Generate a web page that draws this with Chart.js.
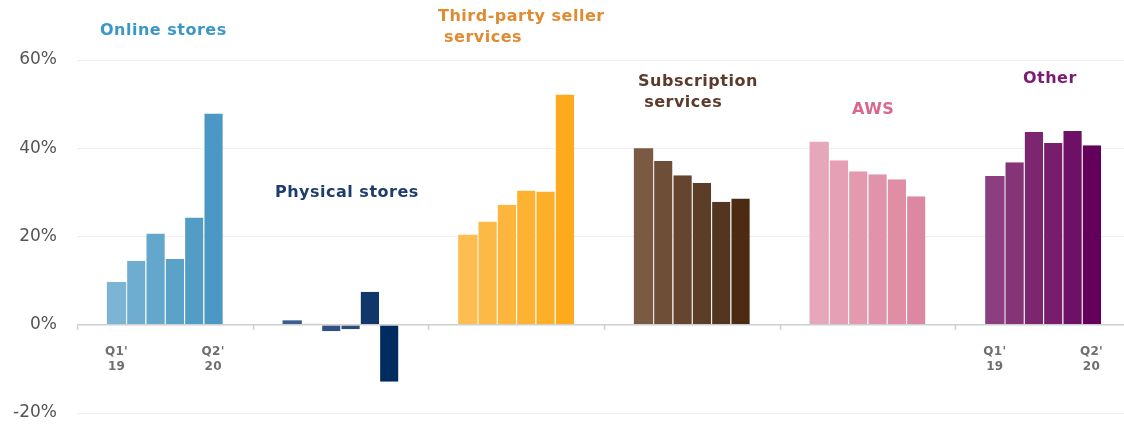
<!DOCTYPE html>
<html>
<head>
<meta charset="utf-8">
<script src="https://cdn.jsdelivr.net/npm/chart.js@4/dist/chart.umd.min.js"></script>
<style>
    html, body { margin: 0; padding: 0; background: #fff; overflow: hidden; }
    #wrap { position: relative; width: 1131px; height: 424px; }
</style>
</head>
<body>
<div id="wrap"><canvas id="chart"></canvas></div>
<script>
// ── Data: year-over-year growth by segment, Q1'19 → Q2'20 ──────────────────

const SEGMENTS = ['Online stores', 'Physical stores', 'Third-party seller services',
                  'Subscription services', 'AWS', 'Other'];
const QUARTERS = ["Q1'19", "Q2'19", "Q3'19", "Q4'19", "Q1'20", "Q2'20"];

const onlineStores   = [9.7, 14.5, 20.7, 14.9, 24.3, 47.9];
const physicalStores = [1.0, 0.3, -1.5, -1.0, 7.5, -12.9];
const thirdParty     = [20.4, 23.4, 27.2, 30.4, 30.2, 52.2];
const subscription   = [40.0, 37.1, 33.9, 32.1, 27.9, 28.6];
const aws            = [41.5, 37.3, 34.8, 34.1, 33.0, 29.1];
const other          = [33.7, 36.8, 43.7, 41.2, 43.9, 40.7];

const SERIES = [onlineStores, physicalStores, thirdParty, subscription, aws, other];

const Y_TICKS = [-20, 0, 20, 40, 60];

// ── Styling ────────────────────────────────────────────────────────────────

// one shade per quarter, light → dark
const PALETTE = [
    ['#7cb4d4', '#6eadd0', '#64a7cc', '#5ba2c9', '#529dc6', '#4a98c3'],
    ['#3a5f8f', '#9cc3d9', '#2f5283', '#2b4d7d', '#11366a', '#002b5e'],
    ['#fdbd50', '#fdb946', '#fdb53c', '#fdb232', '#fdaf2a', '#fdaa1c'],
    ['#7b5a44', '#6f4e38', '#654430', '#5c3d27', '#54351f', '#4b2b12'],
    ['#e6a7bb', '#e5a0b5', '#e39aaf', '#e094ab', '#df8ea6', '#dc88a2'],
    ['#8b3f80', '#853478', '#7c2670', '#771d6c', '#6e1065', '#63005c'],
];

// segment headings: x as fraction of the category slot, y in % units
const TITLES = [
    { lines: ['Online stores'],                            fx: 0.131, y: 66.6, color: '#3a97c6' },
    { lines: ['Physical stores'],                          fx: 0.127, y: 29.9, color: '#1e3d6e' },
    { lines: ['Third-party seller', ' services'],          fx: 0.055, y: 69.7, color: '#e08b30' },
    { lines: ['Subscription', ' services'],                fx: 0.194, y: 55.0, color: '#5b3b2b' },
    { lines: ['AWS'],                                      fx: 0.412, y: 48.7, color: '#d9688f' },
    { lines: ['Other'],                                    fx: 0.385, y: 55.7, color: '#7b1c72' },
];

// quarter captions under the first and last bar of these segments
const CAPTION_SEGMENTS = [0, 5];

const FONT = '"DejaVu Sans", sans-serif';

// ── Overlay: zero axis, slot ticks, headings, captions ─────────────────────

const overlay = {
    id: 'overlay',
    afterDraw(chart) {
        const ctx = chart.ctx;
        const y = chart.scales.y;
        const area = chart.chartArea;
        const y0 = y.getPixelForValue(0);
        const slot = (area.right - area.left) / SEGMENTS.length;

        ctx.save();
        ctx.strokeStyle = '#cfcfcf';
        ctx.lineWidth = 1.5;
        ctx.beginPath();
        ctx.moveTo(area.left, y0);
        ctx.lineTo(area.right, y0);
        for (let i = 0; i <= SEGMENTS.length; i++) {
            const bx = Math.round(area.left + i * slot) + 0.5;
            ctx.moveTo(bx, y0);
            ctx.lineTo(bx, y0 + 5);
        }
        ctx.stroke();

        // headings
        ctx.font = `bold 16px ${FONT}`;
        ctx.letterSpacing = '0.5px';
        ctx.textAlign = 'left';
        ctx.textBaseline = 'middle';
        TITLES.forEach((t, i) => {
            const tx = area.left + (i + t.fx) * slot;
            const ty = y.getPixelForValue(t.y);
            ctx.fillStyle = t.color;
            t.lines.forEach((line, k) => ctx.fillText(line, tx, ty + k * 21));
        });

        // quarter captions
        ctx.font = `bold 12px ${FONT}`;
        ctx.letterSpacing = '0.3px';
        ctx.textAlign = 'center';
        ctx.fillStyle = '#6e6e6e';
        const first = chart.getDatasetMeta(0).data;
        const last = chart.getDatasetMeta(QUARTERS.length - 1).data;
        CAPTION_SEGMENTS.forEach(si => {
            [[first[si], QUARTERS[0]], [last[si], QUARTERS[QUARTERS.length - 1]]].forEach(([bar, q]) => {
                const [qq, yy] = q.split("'");
                ctx.fillText(qq + "'", bar.x, y0 + 27);
                ctx.fillText(yy, bar.x, y0 + 42);
            });
        });
        ctx.restore();
    },
};

// ── Chart ──────────────────────────────────────────────────────────────────

const datasets = QUARTERS.map((q, qi) => ({
    label: q,
    data: SERIES.map(s => s[qi]),
    backgroundColor: PALETTE.map(p => p[qi]),
    borderColor: 'rgba(255,255,255,0.3)',
    borderWidth: { left: qi === 0 ? 0 : 1, right: 0, top: 0, bottom: 0 },
    borderSkipped: false,
    categoryPercentage: 0.66,
    barPercentage: 1.0,
}));

new Chart(document.getElementById('chart'), {
    type: 'bar',
    data: { labels: SEGMENTS, datasets },
    options: {
        responsive: true,
        maintainAspectRatio: false,
        animation: false,
        layout: { padding: { top: 60, bottom: 11, left: 0, right: 0 } },
        plugins: {
            legend: { display: false },
            tooltip: { enabled: false },
        },
        scales: {
            x: { display: false },
            y: {
                min: Y_TICKS[0],
                max: Y_TICKS[Y_TICKS.length - 1],
                afterBuildTicks: s => { s.ticks = Y_TICKS.map(v => ({ value: v })); },
                afterFit: s => {
                    s.width = 77;
                    s.paddingTop = 0;
                    s.paddingBottom = 0;
                },
                border: { display: false },
                grid: {
                    color: ctx => ctx.tick.value === 0 ? 'rgba(0,0,0,0)' : '#efefef',
                    drawTicks: false,
                },
                ticks: {
                    padding: 20,
                    color: '#555',
                    font: { family: FONT, size: 17 },
                    callback: v => `${v}%`,
                },
            },
        },
    },
    plugins: [overlay],
});
</script>
</body>
</html>
